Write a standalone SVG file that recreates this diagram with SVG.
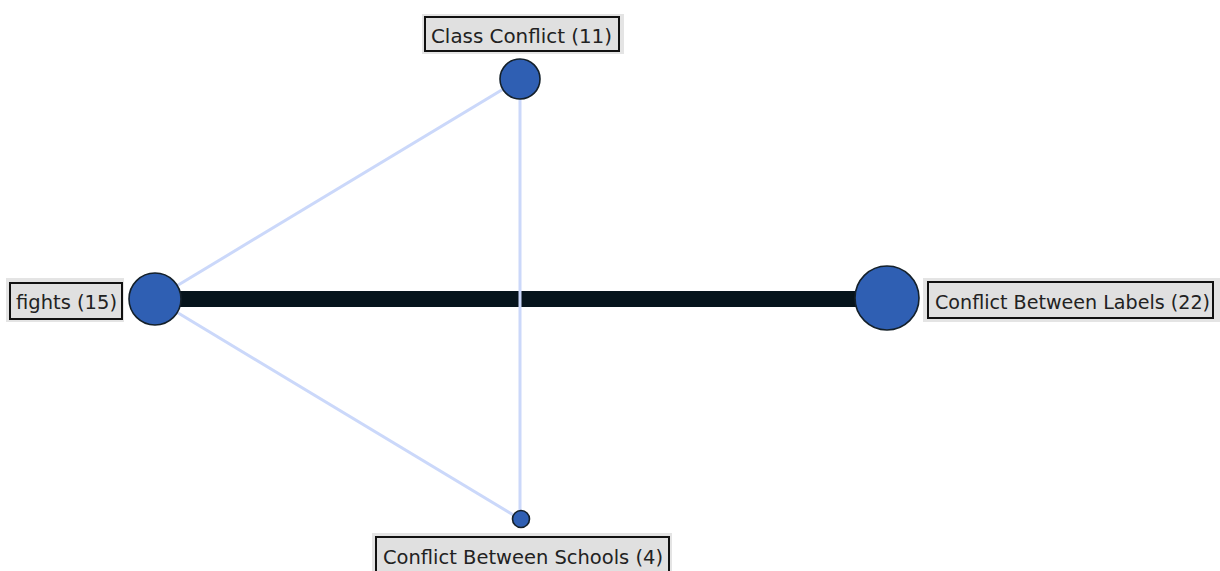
<svg xmlns="http://www.w3.org/2000/svg" width="1220" height="571" viewBox="0 0 1220 571">
<style>
.halo{fill:#e4e4e4;stroke:none}
.box{fill:#e0e0e0;stroke:#111;stroke-width:2}
.lbl{font-family:"DejaVu Sans Condensed","DejaVu Sans",sans-serif;font-size:19px;fill:#222}
.node{fill:#2f5fb3;stroke:#14202a;stroke-width:1.6}
.weak{stroke:#cbd8fa;stroke-width:3;fill:none}
.strong{stroke:#06141c;stroke-width:16;fill:none}
</style>
<rect width="1220" height="571" fill="#fff"/>
<g id="connectors">
<line class="strong" x1="155" y1="299" x2="887" y2="299"/>
<line class="weak" x1="520" y1="79" x2="155" y2="299"/>
<line class="weak" x1="155" y1="299" x2="520" y2="519"/>
<line class="weak" x1="520" y1="79" x2="520" y2="519"/>
</g>
<g id="node-class-conflict">
<circle class="node" cx="520" cy="79" r="20"/>
<rect class="halo" x="422" y="14" width="202" height="40"/>
<rect class="box" x="425" y="17" width="194" height="34"/>
<text class="lbl" x="431" y="43" textLength="181" lengthAdjust="spacingAndGlyphs">Class Conflict (11)</text>
</g>
<g id="node-fights">
<circle class="node" cx="155" cy="299" r="26"/>
<rect class="halo" x="6" y="278" width="118" height="44"/>
<rect class="box" x="10" y="283" width="112" height="36"/>
<text class="lbl" x="16" y="309" textLength="101" lengthAdjust="spacingAndGlyphs">fights (15)</text>
</g>
<g id="node-conflict-between-labels">
<circle class="node" cx="887" cy="298" r="32"/>
<rect class="halo" x="923" y="278" width="297" height="44"/>
<rect class="box" x="928" y="282" width="285" height="36"/>
<text class="lbl" x="935" y="309" textLength="275" lengthAdjust="spacingAndGlyphs">Conflict Between Labels (22)</text>
</g>
<g id="node-conflict-between-schools">
<circle class="node" cx="521" cy="519" r="8.5"/>
<rect class="halo" x="372" y="533" width="300" height="40"/>
<rect class="box" x="376" y="537" width="293" height="40"/>
<text class="lbl" x="383" y="564" textLength="280" lengthAdjust="spacingAndGlyphs">Conflict Between Schools (4)</text>
</g>
</svg>
